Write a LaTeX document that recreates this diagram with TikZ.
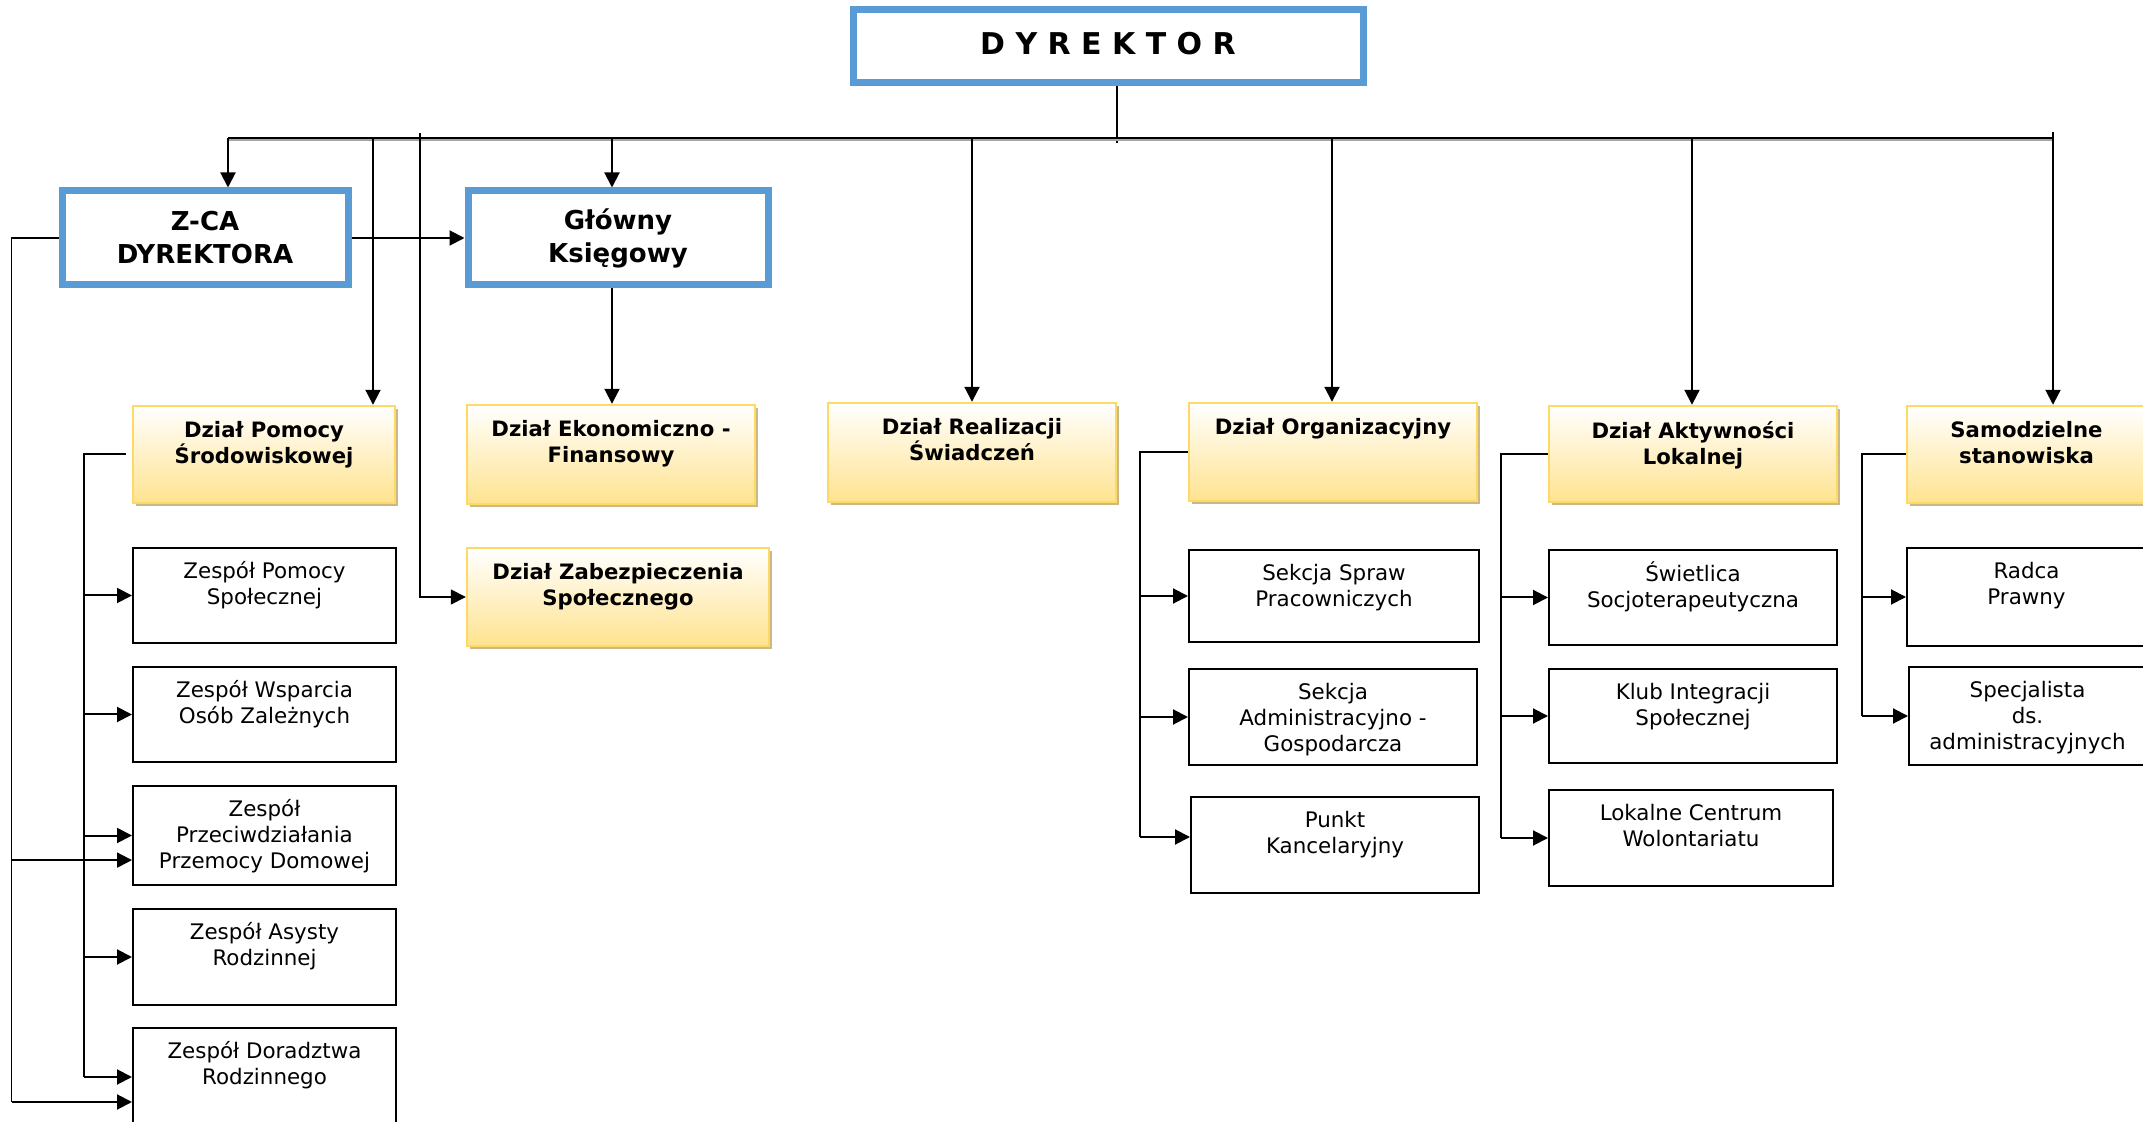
\documentclass[tikz,border=0pt]{standalone}
\usepackage{fontspec}
\setmainfont{DejaVu Sans}
\usetikzlibrary{arrows.meta,fit,shadows,calc}
\definecolor{blueC}{HTML}{5B9BD5}
\definecolor{goldC}{HTML}{FFD966}
\definecolor{yellowC}{HTML}{FFE38F}
\definecolor{shadowC}{HTML}{C8B88A}
\tikzset{
  bluebox/.style={draw=blueC, line width=3.5pt, fill=white, inner sep=0pt, align=center,
    font=\bfseries\fontsize{13}{16.5}\selectfont},
  ybox/.style={draw=goldC, line width=1.2pt, inner sep=0pt, top color=white, bottom color=yellowC,
    drop shadow={shadow xshift=1.6pt, shadow yshift=-1.6pt, fill=shadowC, opacity=1}},
  wbox/.style={draw=black, line width=1pt, inner sep=0pt, fill=white},
  ytext/.style={anchor=north, inner sep=0pt, align=center, font=\bfseries\fontsize{10.6}{13}\selectfont},
  wtext/.style={anchor=north, inner sep=0pt, align=center, font=\fontsize{10.7}{13}\selectfont},
  arr/.style={draw=black, line width=1pt, -{Triangle[length=7.5pt,width=7.5pt]}},
  conn/.style={draw=black, line width=1pt},
  thinl/.style={draw=black, line width=0.8pt},
  busl/.style={draw=black, line width=1.3pt},
}
\begin{document}
\begin{tikzpicture}[x=0.5pt,y=-0.5pt]
\useasboundingbox (0,0) rectangle (2143,1122);

% ---- top level (blue) ----
\node[bluebox, fit={(853,9.5) (1363,82.5)}] (dyr) {};
\node[inner sep=0pt, font=\bfseries\fontsize{15}{18}\selectfont] (dyrT) at ([yshift=1.3pt]dyr.center) {D Y R E K T O R};
\node[bluebox, fit={(62,191) (348,285)}] (zca) {};
\node[inner sep=0pt, align=center, font=\bfseries\fontsize{13}{16.5}\selectfont] (zcaT) at (zca.center) {Z-CA\\DYREKTORA};
\node[bluebox, fit={(468,191) (768,285)}] (gk) {};
\node[inner sep=0pt, align=center, font=\bfseries\fontsize{13}{16.5}\selectfont] (gkT) at (gk.center) {Główny\\Księgowy};

% ---- departments (yellow) ----
\node[ybox, fit={(133,406) (395,503)}] (dps) {};
\node[ytext] (dpsT) at ([yshift=-8pt]dps.north) {Dział Pomocy\\Środowiskowej};
\node[ybox, fit={(467,405) (755,504)}] (def) {};
\node[ytext] (defT) at ([yshift=-8pt]def.north) {Dział Ekonomiczno -\\Finansowy};
\node[ybox, fit={(467,548) (769,646)}] (dzs) {};
\node[ytext] (dzsT) at ([yshift=-8pt]dzs.north) {Dział Zabezpieczenia\\Społecznego};
\node[ybox, fit={(828,403) (1116,502)}] (drs) {};
\node[ytext] (drsT) at ([yshift=-8pt]drs.north) {Dział Realizacji\\Świadczeń};
\node[ybox, fit={(1189,403) (1477,501)}] (dorg) {};
\node[ytext] (dorgT) at ([yshift=-8pt]dorg.north) {Dział Organizacyjny};
\node[ybox, fit={(1549,406) (1837,502)}] (dal) {};
\node[ytext] (dalT) at ([yshift=-8pt]dal.north) {Dział Aktywności\\Lokalnej};
\node[ybox, fit={(1907,406) (2146,503)}] (ss) {};
\node[ytext] (ssT) at ([yshift=-8pt]ss.north) {Samodzielne\\stanowiska};

% ---- teams (white) ----
\node[wbox, fit={(133,548) (396,643)}] (zps) {};
\node[wtext] (zpsT) at ([yshift=-7.2pt]zps.north) {Zespół Pomocy\\Społecznej};
\node[wbox, fit={(133,667) (396,762)}] (zwoz) {};
\node[wtext] (zwozT) at ([yshift=-7.2pt]zwoz.north) {Zespół Wsparcia\\Osób Zależnych};
\node[wbox, fit={(133,786) (396,885)}] (zppd) {};
\node[wtext] (zppdT) at ([yshift=-7.2pt]zppd.north) {Zespół\\Przeciwdziałania\\Przemocy Domowej};
\node[wbox, fit={(133,909) (396,1005)}] (zar) {};
\node[wtext] (zarT) at ([yshift=-7.2pt]zar.north) {Zespół Asysty\\Rodzinnej};
\node[wbox, fit={(133,1028) (396,1130)}] (zdr) {};
\node[wtext] (zdrT) at ([yshift=-7.2pt]zdr.north) {Zespół Doradztwa\\Rodzinnego};

\node[wbox, fit={(1189,550) (1479,642)}] (ssp) {};
\node[wtext] (sspT) at ([yshift=-7.2pt]ssp.north) {Sekcja Spraw\\Pracowniczych};
\node[wbox, fit={(1189,669) (1477,765)}] (sag) {};
\node[wtext] (sagT) at ([yshift=-7.2pt]sag.north) {Sekcja\\Administracyjno -\\Gospodarcza};
\node[wbox, fit={(1191,797) (1479,893)}] (pk) {};
\node[wtext] (pkT) at ([yshift=-7.2pt]pk.north) {Punkt\\Kancelaryjny};

\node[wbox, fit={(1549,550) (1837,645)}] (swt) {};
\node[wtext] (swtT) at ([yshift=-6.2pt]swt.north) {Świetlica\\Socjoterapeutyczna};
\node[wbox, fit={(1549,669) (1837,763)}] (klub) {};
\node[wtext] (klubT) at ([yshift=-7.2pt]klub.north) {Klub Integracji\\Społecznej};
\node[wbox, fit={(1549,790) (1833,886)}] (lcw) {};
\node[wtext] (lcwT) at ([yshift=-7.2pt]lcw.north) {Lokalne Centrum\\Wolontariatu};

\node[wbox, fit={(1907,548) (2146,646)}] (radca) {};
\node[wtext] (radcaT) at ([yshift=-7.2pt]radca.north) {Radca\\Prawny};
\node[wbox, fit={(1909,667) (2146,765)}] (spec) {};
\node[wtext] (specT) at ([yshift=-7.2pt]spec.north) {Specjalista\\ds.\\administracyjnych};

% ---- bus from DYREKTOR ----
\coordinate (busL) at (228,138);
\coordinate (busR) at (2053,138);
\coordinate (tick) at (2053,132);
\coordinate (stemB) at (1117,143);
\coordinate (a2) at (373,138);
\coordinate (a3) at (612,138);
\coordinate (a4) at (972,138);
\coordinate (a5) at (1332,138);
\coordinate (a6) at (1692,138);
\coordinate (v420) at (420,133);

\draw[thinl] (stemB |- dyr.south) -- (stemB);
\draw[draw=black!35, line width=1pt] ([yshift=-0.9pt]busL) -- ([yshift=-0.9pt]busR);
\draw[busl] (busL) -- (busR);
\draw[thinl] (tick) -- (busR);
\draw[arr] (busL) -- (busL |- zca.north);
\draw[arr] (a2) -- (a2 |- dps.north);
\draw[arr] (a3) -- (a3 |- gk.north);
\draw[arr] (a4) -- (a4 |- drs.north);
\draw[arr] (a5) -- (a5 |- dorg.north);
\draw[arr] (a6) -- (a6 |- dal.north);
\draw[arr] (busR) -- (busR |- ss.north);

\draw[arr] (zca.east) -- (gk.west);
\draw[arr] (a3 |- gk.south) -- (a3 |- def.north);
\draw[arr, line width=0.8pt] (v420) |- (dzs.west);

% ---- Z-CA links ----
\coordinate (zl) at (11.5,237);
\coordinate (zppdA) at ([yshift=-12.3pt]zppd.west);
\coordinate (zdrA) at ([yshift=-11.5pt]zdr.west);
\draw[thinl] (zca.west) -- (zl |- zca.west) -- (zl |- zdrA);
\draw[arr] (zl |- zppdA) -- (zppdA);
\draw[arr] (zl |- zdrA) -- (zdrA);

% ---- Dział Pomocy branch ----
\coordinate (bx1) at (84,0);
\coordinate (zdrB) at ([yshift=1pt]zdr.west);
\draw[conn] ([xshift=-3pt]dps.west) -- (bx1 |- dps.west) -- (bx1 |- zdrB);
\foreach \c in {zps,zwoz,zppd,zar} \draw[arr] (bx1 |- \c.west) -- (\c.west);
\draw[arr] (bx1 |- zdrB) -- (zdrB);

% ---- Dział Organizacyjny branch ----
\coordinate (bx2) at (1140,0);
\coordinate (pkA) at ([yshift=4pt]pk.west);
\draw[conn] (dorg.west) -- (bx2 |- dorg.west) -- (bx2 |- pkA);
\foreach \c in {ssp,sag} \draw[arr] (bx2 |- \c.west) -- (\c.west);
\draw[arr] (bx2 |- pkA) -- (pkA);

% ---- Dział Aktywności branch ----
\coordinate (bx3) at (1500.5,0);
\draw[conn] (dal.west) -- (bx3 |- dal.west) -- (bx3 |- lcw.west);
\foreach \c in {swt,klub,lcw} \draw[arr] (bx3 |- \c.west) -- (\c.west);

% ---- Samodzielne branch ----
\coordinate (bx4) at (1862,0);
\draw[conn] (ss.west) -- (bx4 |- ss.west) -- (bx4 |- spec.west);
\foreach \c in {radca,spec} \draw[arr] (bx4 |- \c.west) -- (\c.west);
\end{tikzpicture}
\end{document}
